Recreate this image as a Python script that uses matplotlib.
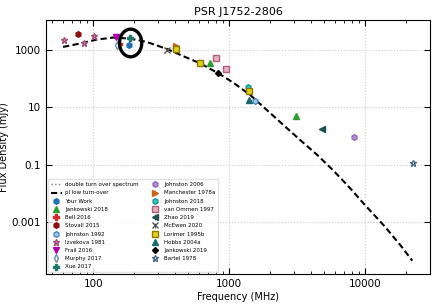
import numpy as np
import matplotlib.pyplot as plt
from matplotlib.patches import Ellipse

your_f, your_s = [184], [1490]
jank18_f, jank18_s = [728, 3100], [354, 4.9]
bell_f, bell_s = [154], [1500]
stov_f, stov_s = [77], [3400]
john92_f, john92_s = [1560], [16]
izv_f, izv_s = [61, 85, 102], [2220, 1620, 2970]
frail_f, frail_s = [147], [2740]
murphy_f, murphy_s = [150], [1400]
xue_f, xue_s = [185], [2530]
john06_f, john06_s = [8356], [0.88]
man78_f, man78_s = [408], [1300]
john18_f, john18_s = [1369], [48]
vom_f, vom_s = [800, 950], [510, 207]
zhao_f, zhao_s = [4820], [1.7]
mcewen_f, mcewen_s = [350], [985]
lor_f, lor_s = [408, 606, 1408], [1020, 343, 35.6]
hobbs_f, hobbs_s = [1400], [17.4]
jank19_f, jank19_s = [835], [154]
bartel_f, bartel_s = [22700], [0.115]

# fitted "pl low turn-over" curve
fit_f = [60, 80, 106, 140, 186, 247, 346, 461, 615, 838, 1081, 1435, 1901,
         2519, 3340, 3915, 4440, 5880, 7800, 9880, 13700, 18200, 22300]
fit_s = [1230, 1620, 2220, 2600, 2400, 1840, 1060, 585, 327, 147, 69, 25.9, 7.8,
         2.35, 0.71, 0.37, 0.22, 0.061, 0.0149, 0.0042, 7.9e-4, 1.6e-4, 4.6e-5]

fig = plt.figure(figsize=(4.35, 3.05), dpi=100)
ax = fig.add_axes([0.106, 0.102, 0.883, 0.832])

ax.plot([], [], ':', color='gray', lw=1, label='double turn over spectrum')
ax.plot(fit_f, fit_s, '--', color='black', lw=1.5, dashes=(3, 1.6),
        label='pl low turn-over')

ms = 4
def pts(f, s, label, marker, color, mfc=None, size=ms):
    ax.errorbar(f, s, yerr=[0.08 * v for v in s], fmt=marker, color=color,
                mfc=mfc if mfc else color, mec=color, ms=size, elinewidth=0.6,
                capsize=0, lw=0, label=label)

pts(your_f, your_s, 'Your Work', 'h', '#1f6fb4')
pts(jank18_f, jank18_s, 'Jankowski 2018', '^', '#2ca02c')
pts(bell_f, bell_s, 'Bell 2016', 'P', '#d62728')
pts(stov_f, stov_s, 'Stovall 2015', 'h', '#8b1010')
pts(john92_f, john92_s, 'Johnston 1992', 'h', '#4a86c5', mfc='#a9c9ea')
pts(izv_f, izv_s, 'Izvekova 1981', '*', '#a0507a', mfc='#d890b4', size=5)
pts(frail_f, frail_s, 'Frail 2016', 'v', '#b000b0')
pts(murphy_f, murphy_s, 'Murphy 2017', 'd', '#6a8caf', mfc='white')
pts(xue_f, xue_s, 'Xue 2017', 'P', '#207a6a')
pts(john06_f, john06_s, 'Johnston 2006', 'h', '#9467bd', mfc='#b48fdc')
pts(man78_f, man78_s, 'Manchester 1978a', '>', '#c8651b')
pts(john18_f, john18_s, 'Johnston 2018', 'h', '#199a9a', mfc='#3cc0b8')
pts(vom_f, vom_s, 'van Ommen 1997', 's', '#b0607a', mfc='#e8b0c0')
pts(zhao_f, zhao_s, 'Zhao 2019', '<', '#1f4f4f')
pts(mcewen_f, mcewen_s, 'McEwen 2020', 'x', '#555555')
pts(lor_f, lor_s, 'Lorimer 1995b', 's', '#8a7a00', mfc='#e0d020')
pts(hobbs_f, hobbs_s, 'Hobbs 2004a', '^', '#1a6a6a')
pts(jank19_f, jank19_s, 'Jankowski 2019', 'D', 'black', size=3)
pts(bartel_f, bartel_s, 'Bartel 1978', '*', '#4a6a8a', mfc='white', size=5)

# highlight ring around this work's point
ax.add_patch(Ellipse((0.22, 0.91), 0.058, 0.109, transform=ax.transAxes,
                     fill=False, ec='black', lw=2.4, zorder=5))

ax.set_xscale('log')
ax.set_yscale('log')
ax.set_xlim(45, 30200)
ax.set_ylim(1.6e-5, 1.05e4)
ax.set_xticks([100, 1000, 10000])
ax.set_xticklabels(['100', '1000', '10000'])
ax.set_yticks([1000, 10, 0.1, 0.001])
ax.set_yticklabels(['1000', '10', '0.1', '0.001'])
ax.yaxis.set_minor_locator(plt.NullLocator())
ax.tick_params(which='both', direction='in', top=True, right=True, labelsize=7.5)
ax.tick_params(which='major', length=4)
ax.tick_params(which='minor', length=2)
ax.grid(True, which='major', ls=':', color='#cccccc', lw=0.8)

ax.set_xlabel('Frequency (MHz)', fontsize=7, labelpad=2)
ax.set_ylabel('Flux Density (mJy)', fontsize=7, labelpad=2)
ax.set_title('PSR J1752-2806', fontsize=8, pad=4)

ax.legend(loc='lower left', ncol=2, fontsize=4, labelspacing=0.58,
          handlelength=2.0, handletextpad=0.6, columnspacing=2.0,
          borderpad=0.5, borderaxespad=0.3,
          frameon=True, fancybox=False, edgecolor='#dddddd')

fig.savefig('out.png', dpi=100)
